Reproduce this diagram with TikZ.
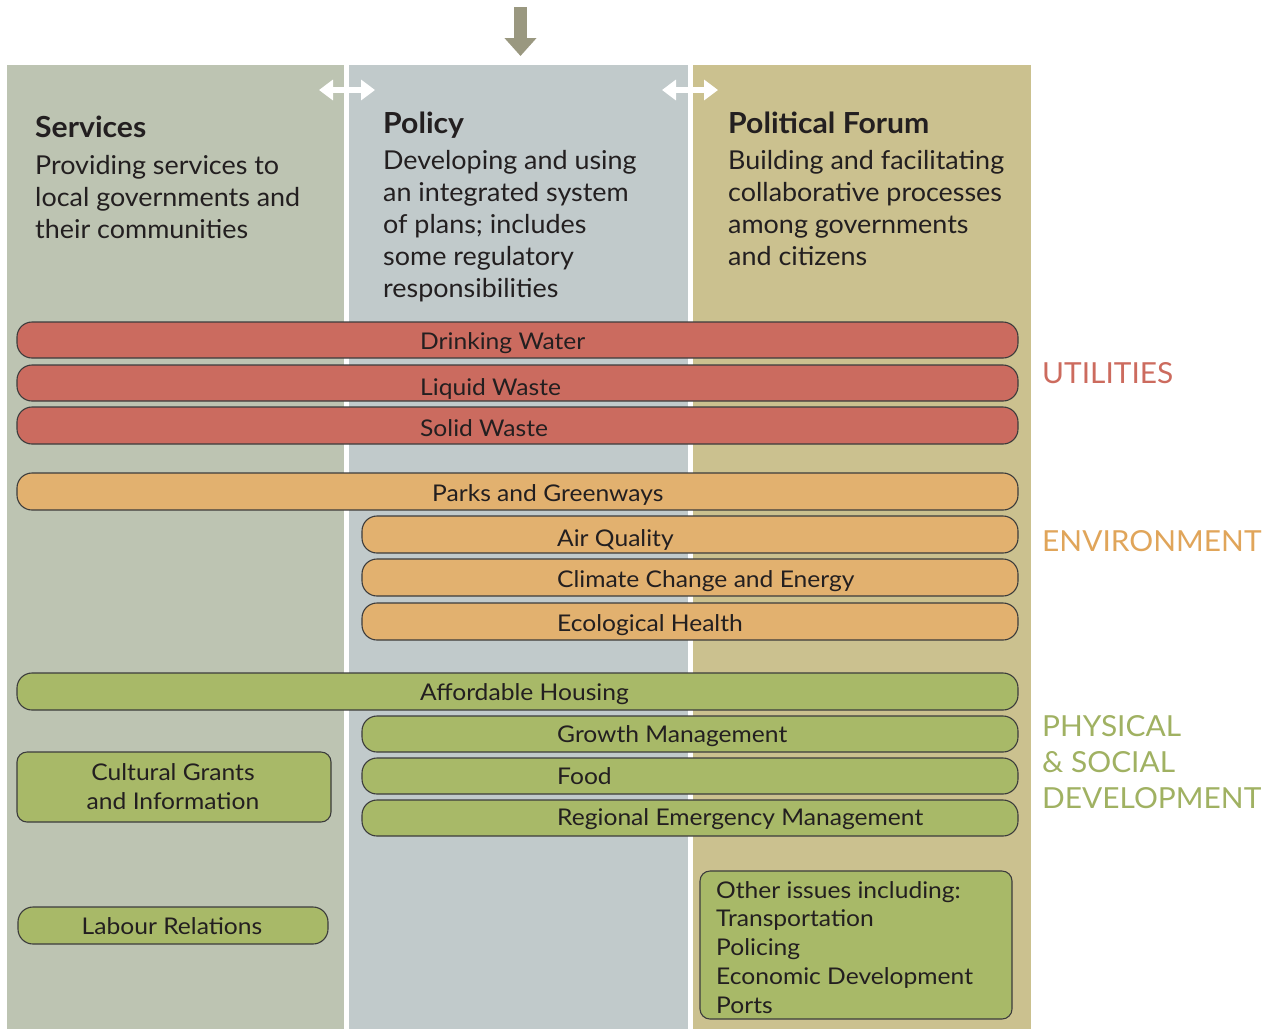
\documentclass[tikz,border=0pt]{standalone}
\usepackage{fontspec}
\setmainfont{Lato}
\newfontfamily\descfont{Lato}[FakeStretch=1.035]
\newfontfamily\barfont{Lato}[FakeStretch=1.07]
\newfontfamily\titlefont{Lato}[FakeStretch=1.04]
\newfontfamily\labelfont{Lato}[FakeStretch=1.03]
\usetikzlibrary{arrows.meta}
\definecolor{colserv}{HTML}{BDC4B2}
\definecolor{colpol}{HTML}{C1CACB}
\definecolor{colforum}{HTML}{CBC18F}
\definecolor{cred}{HTML}{CB6B5F}
\definecolor{corange}{HTML}{E2B16F}
\definecolor{cgreen}{HTML}{A8B968}
\definecolor{tred}{HTML}{CC6B5E}
\definecolor{torange}{HTML}{E0A55A}
\definecolor{tgreen}{HTML}{A0B162}
\definecolor{txt}{HTML}{231F20}
\definecolor{arrowcol}{HTML}{9A9880}
\definecolor{edgecol}{HTML}{3C3C3C}
\begin{document}
\begin{tikzpicture}[x=1pt,y=-1pt,
  colbox/.style={draw=none, anchor=north west, inner sep=0pt, outer sep=0pt},
  barbox/.style={draw=edgecol, line width=1.1pt, rounded corners=15pt, anchor=north west, inner sep=0pt, outer sep=0pt},
  smallbox/.style={draw=edgecol, line width=1.1pt, rounded corners=10pt, anchor=north west, inner sep=0pt, outer sep=0pt},
  bartext/.style={anchor=base west, font=\barfont\fontsize{23}{29}\selectfont, text=txt, inner sep=0pt},
  hdrtitle/.style={anchor=base west, font=\titlefont\fontsize{29}{32}\selectfont\bfseries, text=txt, inner sep=0pt},
  hdrdesc/.style={anchor=base west, font=\descfont\fontsize{26}{32}\selectfont, text=txt, inner sep=0pt, align=left},
  sidelabel/.style={anchor=base west, font=\labelfont\fontsize{29}{36}\selectfont, inner sep=0pt, align=left},
  dblarrow/.style={white, line width=6pt, {Triangle[length=14pt,width=20pt]}-{Triangle[length=14pt,width=20pt]}},
  inarrow/.style={arrowcol, line width=13pt, -{Triangle[length=18pt,width=31pt]}}
]
\useasboundingbox (0,0) rectangle (1273,1029);

% columns
\node[colbox, fill=colserv, minimum width=337pt, minimum height=964pt] (servcol) at (7,65) {};
\node[colbox, fill=colpol, minimum width=339pt, minimum height=964pt] (polcol) at (349,65) {};
\node[colbox, fill=colforum, minimum width=338pt, minimum height=964pt] (forumcol) at (693,65) {};

% incoming arrow
\coordinate (intop) at (520.5,7);
\coordinate (inend) at (520.5,56);
\draw[inarrow] (intop) -- (inend);

% double arrows
\coordinate (la) at (319,90);
\coordinate (lb) at (375,90);
\coordinate (ra) at (662,90);
\coordinate (rb) at (718,90);
\draw[dblarrow] (la) -- (lb);
\draw[dblarrow] (ra) -- (rb);

% headers (multi-line nodes: base = last line's baseline)
\node[hdrtitle] (servtitle) at (35,137) {Services};
\node[hdrdesc] (servdesc) at (35,238) {Providing services to\\local governments and\\their communities};
\node[hdrtitle] (poltitle) at (383,133) {Policy};
\node[hdrdesc] (poldesc) at (383,297) {Developing and using\\an integrated system\\of plans; includes\\some regulatory\\responsibilities};
\node[hdrtitle] (forumtitle) at (728,133) {Political Forum};
\node[hdrdesc] (forumdesc) at (728,265) {Building and facilitating\\collaborative processes\\among governments\\and citizens};

% utilities
\node[barbox, fill=cred, minimum width=1001pt, minimum height=36pt] (dw) at (17,322) {};
\node[bartext] (dwt) at (420,349) {Drinking Water};
\node[barbox, fill=cred, minimum width=1001pt, minimum height=36pt] (lw) at (17,365) {};
\node[bartext] (lwt) at (420,395) {Liquid Waste};
\node[barbox, fill=cred, minimum width=1001pt, minimum height=37pt] (sw) at (17,407) {};
\node[bartext] (swt) at (420,436) {Solid Waste};

% environment
\node[barbox, fill=corange, minimum width=1001pt, minimum height=37pt] (pg) at (17,473) {};
\node[bartext] (pgt) at (432,501) {Parks and Greenways};
\node[barbox, fill=corange, minimum width=656pt, minimum height=37pt] (aq) at (362,516) {};
\node[bartext] (aqt) at (557,546) {Air Quality};
\node[barbox, fill=corange, minimum width=656pt, minimum height=37pt] (cc) at (362,559) {};
\node[bartext] (cct) at (557,587) {Climate Change and Energy};
\node[barbox, fill=corange, minimum width=656pt, minimum height=37pt] (eh) at (362,603) {};
\node[bartext] (eht) at (557,631) {Ecological Health};

% physical & social
\node[barbox, fill=cgreen, minimum width=1001pt, minimum height=37pt] (ah) at (17,673) {};
\node[bartext] (aht) at (420,700) {Affordable Housing};
\node[barbox, fill=cgreen, minimum width=656pt, minimum height=36pt] (gm) at (362,716) {};
\node[bartext] (gmt) at (557,742) {Growth Management};
\node[barbox, fill=cgreen, minimum width=656pt, minimum height=36pt] (fd) at (362,758) {};
\node[bartext] (fdt) at (557,784) {Food};
\node[barbox, fill=cgreen, minimum width=656pt, minimum height=36pt] (rem) at (362,800) {};
\node[bartext] (remt) at (557,825) {Regional Emergency Management};

\node[smallbox, fill=cgreen, minimum width=314pt, minimum height=70pt] (cg) at (17,752) {};
\node[bartext, anchor=base, align=center] (cgt) at (173,809) {Cultural Grants\\and Information};
\node[barbox, fill=cgreen, minimum width=310pt, minimum height=37pt] (lr) at (18,907) {};
\node[bartext, anchor=base] (lrt) at (172,934) {Labour Relations};

\node[smallbox, fill=cgreen, minimum width=312pt, minimum height=148pt] (oi) at (700,871) {};
\node[bartext, align=left, font=\barfont\fontsize{23}{28.75}\selectfont] (oit) at (716,1013) {Other issues including:\\Transportation\\Policing\\Economic Development\\Ports};

% side labels
\node[sidelabel, text=tred] (lutil) at (1042,383) {UTILITIES};
\node[sidelabel, text=torange] (lenv) at (1042,551) {ENVIRONMENT};
\node[sidelabel, text=tgreen] (lphys) at (1042,808) {PHYSICAL\\\& SOCIAL\\DEVELOPMENT};
\end{tikzpicture}
\end{document}
